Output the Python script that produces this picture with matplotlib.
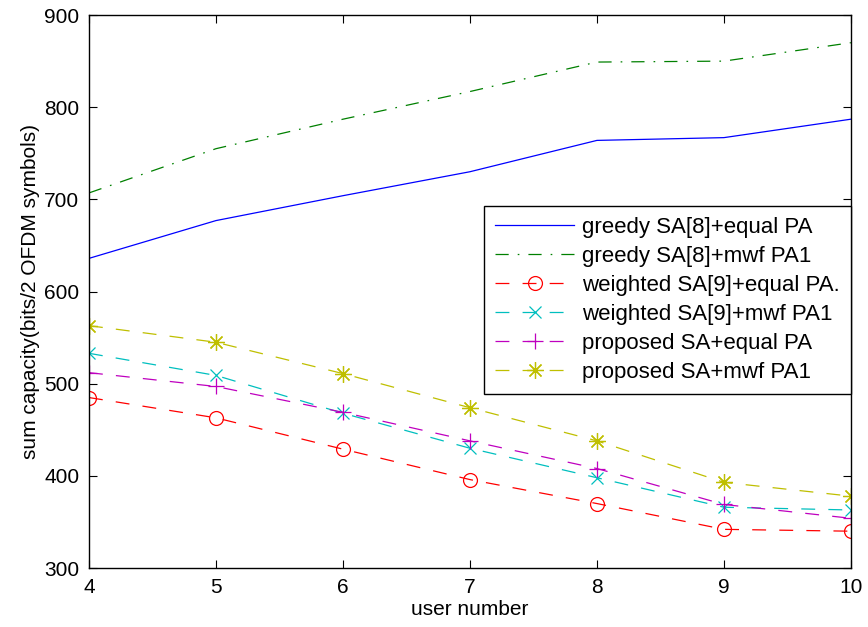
import matplotlib
matplotlib.use("Agg")
import matplotlib.pyplot as plt

# sum capacity vs. number of users, six allocation schemes
users = [4, 5, 6, 7, 8, 9, 10]
greedy_equal = [636, 677, 704, 730, 764, 767, 787]
greedy_mwf = [707, 755, 787, 817, 849, 850, 870]
weighted_equal = [485, 463, 429, 396, 370, 342, 340]
weighted_mwf = [533, 509, 468, 430, 398, 366, 363]
proposed_equal = [512, 497, 469, 438, 408, 369, 354]
proposed_mwf = [563, 545, 511, 474, 438, 393, 378]

labels = [
    "greedy SA[8]+equal PA",
    "greedy SA[8]+mwf PA1",
    "weighted SA[9]+equal PA.",
    "weighted SA[9]+mwf PA1",
    "proposed SA+equal PA",
    "proposed SA+mwf PA1",
]

plt.rcParams["font.family"] = ["Liberation Sans", "DejaVu Sans"]
plt.rcParams["lines.scale_dashes"] = False

DASH = (10, 9.5)
DASHDOT = (9.5, 6.5, 1.2, 6.5)

styles = [
    dict(color="#0000ff", ls="-"),
    dict(color="#008000", dashes=DASHDOT),
    dict(color="#ff0000", dashes=DASH, marker="o", ms=10, mfc="none"),
    dict(color="#00bfbf", dashes=DASH, marker="x", ms=9),
    dict(color="#bf00bf", dashes=DASH, marker="+", ms=12),
    dict(color="#bfbf00", dashes=DASH, marker=(8, 2, 0), ms=12),
]
series = [greedy_equal, greedy_mwf, weighted_equal,
          weighted_mwf, proposed_equal, proposed_mwf]

fig = plt.figure(figsize=(8.68, 6.27), dpi=100)
ax = fig.add_axes([0.1025, 0.094, 0.8778, 0.882])

for vals, lab, st in zip(series, labels, styles):
    ax.plot(users, vals, lw=0.9, mew=0.9, label=lab, **st)

ax.set_xlim(4, 10)
ax.set_ylim(300, 900)
ax.set_xticks(users)
ax.set_yticks(range(300, 901, 100))
ax.tick_params(direction="in", length=6, width=0.8, top=True, right=True,
               labelsize=15, pad=7)
for sp in ax.spines.values():
    sp.set_linewidth(1.0)

ax.set_xlabel("user number", fontsize=15, labelpad=2)
ax.set_ylabel("sum capacity(bits/2 OFDM symbols)", fontsize=15, labelpad=3)

leg = ax.legend(loc="upper right", bbox_to_anchor=(1.0, 0.6546),
                borderaxespad=0, fancybox=False, framealpha=1,
                edgecolor="black", fontsize=16, handlelength=3.55,
                labelspacing=0.36, borderpad=0.5, handletextpad=0.35)
leg.get_frame().set_linewidth(1.0)

fig.savefig("out.png", dpi=100)
